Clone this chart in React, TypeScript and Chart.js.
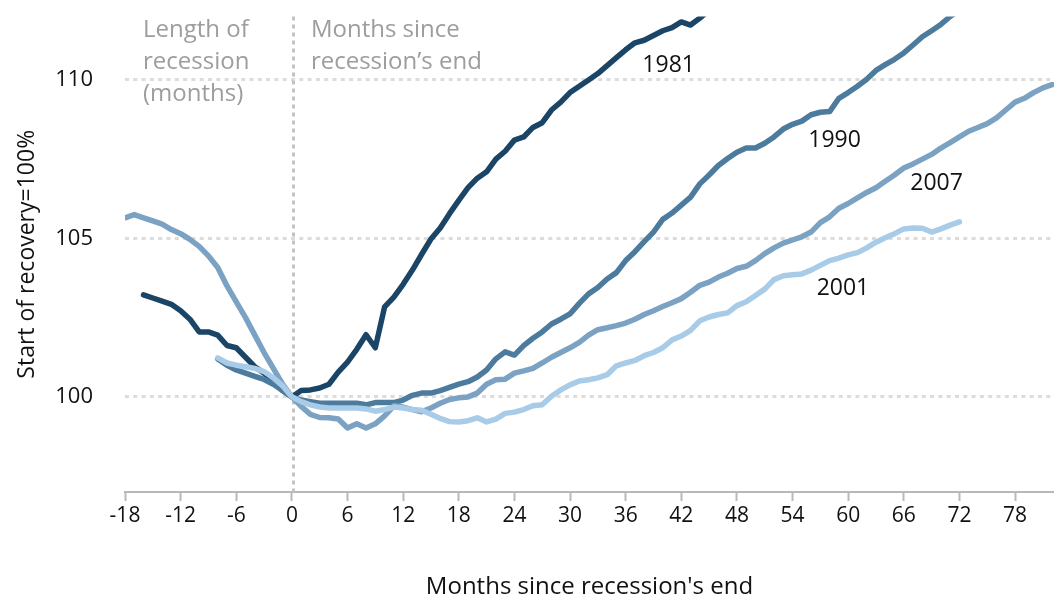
import React, { useEffect, useRef } from "react";
import { Chart, registerables } from "chart.js";

Chart.register(...registerables);

// ---------- Data ----------
const X_TICKS = [-18, -12, -6, 0, 6, 12, 18, 24, 30, 36, 42, 48, 54, 60, 66, 72, 78];
const Y_TICKS = [100, 105, 110];

const START_1981 = -16;
const VALUES_1981 = [
  103.22, 103.12, 103.02, 102.92, 102.72, 102.45, 102.05, 102.05, 101.95, 101.62,
  101.55, 101.25, 100.95, 100.75, 100.5, 100.2, 100.0,
  100.2, 100.22, 100.28, 100.4, 100.78, 101.1, 101.5, 101.96, 101.55, 102.84,
  103.15, 103.55, 104.0, 104.5, 104.98, 105.33, 105.78, 106.2, 106.6, 106.9,
  107.1, 107.5, 107.75, 108.1, 108.2, 108.5, 108.65, 109.05, 109.3, 109.6,
  109.8, 110.0, 110.2, 110.45, 110.7, 110.95, 111.17, 111.25, 111.4, 111.55,
  111.65, 111.83, 111.73, 111.95, 112.2, 112.4,
];

const START_1990 = -8;
const VALUES_1990 = [
  101.2, 101.0, 100.85, 100.75, 100.65, 100.55, 100.4, 100.2, 100.0,
  99.9, 99.85, 99.8, 99.8, 99.8, 99.8, 99.8, 99.75, 99.82, 99.82,
  99.82, 99.9, 100.05, 100.12, 100.12, 100.2, 100.3, 100.4, 100.48, 100.63,
  100.85, 101.2, 101.42, 101.32, 101.62, 101.85, 102.05, 102.3, 102.45, 102.62,
  102.95, 103.25, 103.45, 103.72, 103.92, 104.3, 104.58, 104.9, 105.2, 105.6,
  105.8, 106.05, 106.3, 106.72, 107.0, 107.3, 107.52, 107.72, 107.85, 107.85,
  108.0, 108.2, 108.45, 108.6, 108.7, 108.9, 108.98, 109.0, 109.42, 109.6,
  109.8, 110.02, 110.3, 110.48, 110.65, 110.85, 111.1, 111.36, 111.55, 111.75,
  112.0, 112.2,
];

const START_2007 = -18;
const VALUES_2007 = [
  105.65, 105.75, 105.65, 105.55, 105.45, 105.28, 105.15, 104.97, 104.75, 104.45,
  104.08, 103.5, 103.0, 102.5, 101.95, 101.4, 100.9, 100.4, 100.0,
  99.7, 99.45, 99.35, 99.34, 99.3, 99.02, 99.15, 99.02, 99.15, 99.4,
  99.72, 99.68, 99.6, 99.53, 99.65, 99.8, 99.92, 99.97, 100.0, 100.12,
  100.4, 100.54, 100.56, 100.75, 100.82, 100.9, 101.07, 101.25, 101.4, 101.55,
  101.72, 101.95, 102.12, 102.18, 102.25, 102.33, 102.45, 102.6, 102.72, 102.85,
  102.97, 103.1, 103.3, 103.52, 103.62, 103.78, 103.9, 104.05, 104.12, 104.3,
  104.52, 104.7, 104.85, 104.95, 105.05, 105.2, 105.5, 105.68, 105.95, 106.1,
  106.28, 106.45, 106.6, 106.8, 107.0, 107.22, 107.35, 107.5, 107.65, 107.85,
  108.02, 108.2, 108.38, 108.5, 108.62, 108.8, 109.05, 109.3, 109.42, 109.6,
  109.75, 109.85,
];

const START_2001 = -8;
const VALUES_2001 = [
  101.23, 101.07, 101.0, 100.95, 100.9, 100.8, 100.6, 100.35, 100.0,
  99.85, 99.75, 99.68, 99.65, 99.65, 99.65, 99.65, 99.62, 99.55, 99.6,
  99.68, 99.65, 99.6, 99.58, 99.45, 99.32, 99.22, 99.21, 99.25, 99.34,
  99.21, 99.3, 99.48, 99.52, 99.6, 99.72, 99.75, 100.02, 100.22, 100.38,
  100.5, 100.54, 100.6, 100.7, 100.98, 101.07, 101.15, 101.3, 101.4, 101.55,
  101.8, 101.92, 102.1, 102.4, 102.52, 102.6, 102.65, 102.88, 103.0, 103.2,
  103.4, 103.7, 103.82, 103.85, 103.88, 104.0, 104.15, 104.3, 104.38, 104.48,
  104.55, 104.7, 104.88, 105.02, 105.15, 105.3, 105.33, 105.32, 105.2, 105.3,
  105.42, 105.52,
];

const SERIES_NAMES = ["1981", "1990", "2007", "2001"];
const SERIES_COLORS = ["#1b4566", "#4d7b9d", "#7ba2c3", "#a8cbe8"];

// label anchors (data coordinates) for series names
const SERIES_LABEL_X = [37.8, 55.7, 66.7, 56.6];
const SERIES_LABEL_Y = [110.25, 107.88, 106.53, 103.21];

const NOTE_LEFT = ["Length of", "recession", "(months)"];
const NOTE_RIGHT = ["Months since", "recession\u2019s end"];

const FONT = "'Open Sans', Lato, sans-serif";

function toPoints(start: number, values: number[]) {
  return values.map((v, i) => ({ x: start + i, y: v }));
}

export default function App() {
  const ref = useRef<HTMLCanvasElement | null>(null);

  useEffect(() => {
    document.body.style.margin = "0";
    const canvas = ref.current;
    if (!canvas) return;

    const starts = [START_1981, START_1990, START_2007, START_2001];
    const values = [VALUES_1981, VALUES_1990, VALUES_2007, VALUES_2001];
    const drawOrder = [3, 2, 1, 0];

    const datasets = SERIES_NAMES.map((name, i) => ({
      label: name,
      data: toPoints(starts[i], values[i]),
      borderColor: SERIES_COLORS[i],
      backgroundColor: SERIES_COLORS[i],
      borderWidth: 5.5,
      tension: 0,
      pointRadius: 0,
      borderJoinStyle: "round" as const,
      borderCapStyle: "round" as const,
      fill: false,
      order: drawOrder[i],
    }));

    const zeroLine = {
      id: "zeroLine",
      beforeDatasetsDraw(chart: any) {
        const { ctx, chartArea, scales } = chart;
        const x = Math.round(scales.x.getPixelForValue(0)) + 1.5;
        ctx.save();
        ctx.strokeStyle = "#c3c3c3";
        ctx.lineWidth = 3;
        ctx.setLineDash([4, 4]);
        ctx.beginPath();
        ctx.moveTo(x, chartArea.top);
        ctx.lineTo(x, chartArea.bottom);
        ctx.stroke();
        ctx.restore();
      },
    };

    const annotations = {
      id: "annotations",
      afterDatasetsDraw(chart: any) {
        const { ctx, chartArea, scales } = chart;
        ctx.save();
        ctx.font = `24px ${FONT}`;
        ctx.textBaseline = "alphabetic";
        ctx.textAlign = "left";
        ctx.fillStyle = "#9d9d9d";
        const xl = scales.x.getPixelForValue(-18) + 18;
        const xr = scales.x.getPixelForValue(0) + 19;
        NOTE_LEFT.forEach((t, i) => ctx.fillText(t, xl, chartArea.top + 20 + i * 32));
        NOTE_RIGHT.forEach((t, i) => ctx.fillText(t, xr, chartArea.top + 20 + i * 32));
        ctx.font = `23px ${FONT}`;
        ctx.fillStyle = "#111111";
        SERIES_NAMES.forEach((name, i) => {
          ctx.fillText(
            name,
            scales.x.getPixelForValue(SERIES_LABEL_X[i]),
            scales.y.getPixelForValue(SERIES_LABEL_Y[i])
          );
        });
        ctx.restore();
      },
    };

    const chart = new Chart(canvas, {
      type: "line",
      data: { datasets },
      options: {
        animation: false,
        responsive: false,
        devicePixelRatio: 1,
        layout: { padding: { top: 16.5, right: 0, left: 0, bottom: 0 } },
        plugins: {
          legend: { display: false },
          tooltip: { enabled: false },
        },
        scales: {
          x: {
            type: "linear",
            min: -18,
            max: 82.2,
            afterBuildTicks: (s: any) => {
              s.ticks = X_TICKS.map((v) => ({ value: v }));
            },
            afterFit: (s: any) => {
              s.height = 107;
            },
            grid: {
              drawOnChartArea: false,
              drawTicks: true,
              tickLength: 9,
              tickColor: "#b8b8b8",
              tickWidth: 2,
            },
            border: { display: true, color: "#b8b8b8", width: 2 },
            ticks: {
              font: { family: FONT, size: 21 },
              color: "#111111",
              padding: 2,
              maxRotation: 0,
              autoSkip: false,
              callback: (v: any) => String(v),
            },
            title: {
              display: true,
              text: "Months since recession's end",
              font: { family: FONT, size: 24, lineHeight: 1 },
              color: "#111111",
              padding: { top: 0, bottom: 0 },
            },
          },
          y: {
            type: "linear",
            min: 97,
            max: 112,
            afterBuildTicks: (s: any) => {
              s.ticks = Y_TICKS.map((v) => ({ value: v }));
            },
            afterFit: (s: any) => {
              s.width = 125;
              s.paddingTop = 0;
              s.paddingBottom = 0;
            },
            grid: {
              drawOnChartArea: true,
              drawTicks: true,
              tickLength: 30,
              tickColor: "rgba(0,0,0,0)",
              color: "#dcdcdc",
              lineWidth: 3,
            },
            border: { display: false, dash: [4, 4.3] },
            ticks: {
              font: { family: FONT, size: 22 },
              color: "#111111",
              padding: 2,
              callback: (v: any) => String(v),
            },
            title: {
              display: true,
              text: "Start of recovery=100%",
              font: { family: FONT, size: 23 },
              color: "#111111",
              padding: { top: 14, bottom: 0 },
            },
          },
        },
      },
      plugins: [zeroLine, annotations],
    } as any);

    return () => chart.destroy();
  }, []);

  return (
    <div style={{ width: 1054, height: 599, background: "#ffffff" }}>
      <canvas ref={ref} width={1054} height={599} style={{ display: "block" }} />
    </div>
  );
}
